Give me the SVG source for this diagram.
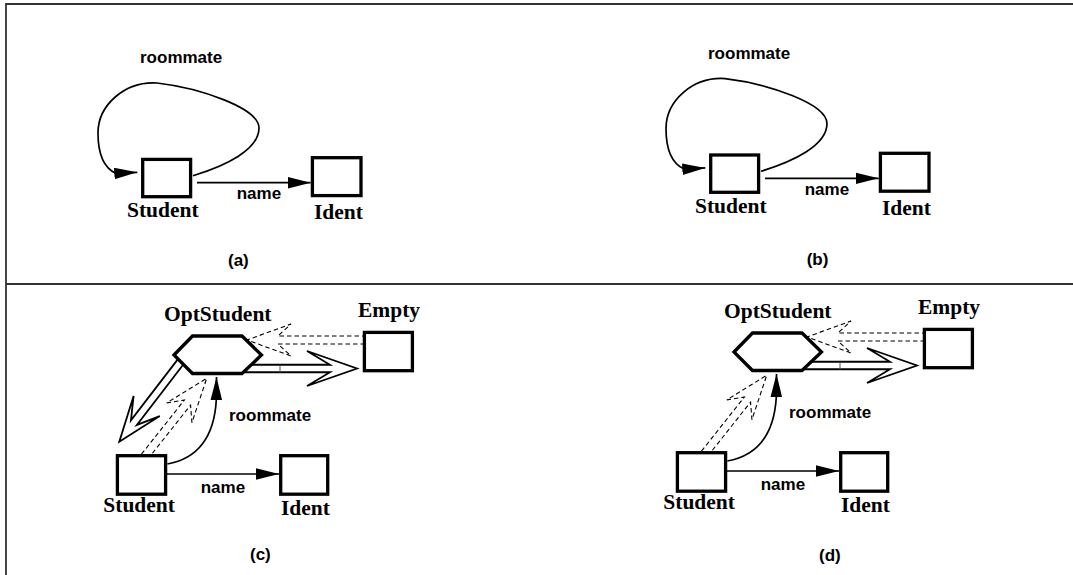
<svg xmlns="http://www.w3.org/2000/svg" width="1073" height="575" viewBox="0 0 1073 575">
<defs>
<marker id="ah" markerUnits="userSpaceOnUse" markerWidth="23" markerHeight="12" refX="22" refY="5.5" orient="auto" viewBox="0 0 22 11"><path d="M0,0 L22,5.5 L0,11 z" fill="#000"/></marker>
<style>
.frame{stroke:#333;stroke-width:1.8;fill:none}
.box{fill:#fff;stroke:#000;stroke-width:3.3}
.edge{fill:none;stroke:#000;stroke-width:1.7}
.hollow{fill:none;stroke:#000;stroke-width:1.8;stroke-linejoin:miter}
.tick{stroke:#555;stroke-width:1}
.dash{fill:none;stroke:#000;stroke-width:1.1;stroke-dasharray:4.5 3}
.lbl{font-family:"Liberation Sans",Arial,Helvetica,sans-serif;font-weight:bold;font-size:17px;fill:#000}
.nm{font-family:"Liberation Serif","Times New Roman",serif;font-weight:bold;font-size:21.5px;fill:#000}
</style>
</defs>
<rect width="1073" height="575" fill="#fff"/>
<path class="frame" d="M6,575 V4 H1073 M6,284 H1073"/>

<!-- Panel (a) -->
<g id="panel-a">
  <g id="a-connectors">
    <path class="edge" d="M193,175.7 C225,166 259,150 259,128 C259,108 200,88 157,83 C125,81 98,105 98,133 C98,155 104,168 116,173.5 L137.3,172.3" marker-end="url(#ah)"/>
    <path class="edge" d="M197,182.7 H310.7" marker-end="url(#ah)"/>
    <text class="lbl" x="140" y="63">roommate</text>
    <text class="lbl" x="236.7" y="199.3">name</text>
  </g>
  <g id="a-student"><rect class="box" x="142.7" y="159.4" width="47.9" height="37.3"/><text class="nm" x="127" y="217">Student</text></g>
  <g id="a-ident"><rect class="box" x="312.4" y="157.7" width="48.6" height="37.9"/><text class="nm" x="314" y="219">Ident</text></g>
  <text class="lbl" x="228" y="266">(a)</text>
</g>

<!-- Panel (b) -->
<g id="panel-b">
  <g transform="translate(568,-4.4)">
    <g id="b-connectors">
      <path class="edge" d="M193,175.7 C225,166 259,150 259,128 C259,108 200,88 157,83 C125,81 98,105 98,133 C98,155 104,168 116,173.5 L137.3,172.3" marker-end="url(#ah)"/>
      <path class="edge" d="M197,182.7 H310.7" marker-end="url(#ah)"/>
      <text class="lbl" x="140" y="63">roommate</text>
      <text class="lbl" x="236.7" y="199.3">name</text>
    </g>
    <g id="b-student"><rect class="box" x="142.7" y="159.4" width="47.9" height="37.3"/><text class="nm" x="127" y="217">Student</text></g>
    <g id="b-ident"><rect class="box" x="312.4" y="157.7" width="48.6" height="37.9"/><text class="nm" x="314" y="219">Ident</text></g>
  </g>
  <text class="lbl" x="806.7" y="265">(b)</text>
</g>

<!-- Panel (c) -->
<g id="panel-c">
  <g id="c-connectors">
    <path class="hollow" transform="translate(357,368.5)" d="M-117,-3.75 L-27,-3.75 L-50,-17.5 L0,0 L-50,17.5 L-27,3.75 L-117,3.75"/>
    <path class="tick" d="M280,365 V372.5"/>
    <path class="hollow" transform="translate(119.3,441.7) rotate(127.5)" d="M-105,-3.75 L-24,-3.75 L-45,-16.5 L0,0 L-45,16.5 L-24,3.75 L-105,3.75"/>
    <path class="dash" transform="translate(247,340) rotate(180)" d="M-118,-4 L-31,-4 L-44,-16 L0,0 L-44,16 L-31,4 L-118,4"/>
    <path class="dash" transform="translate(206.7,378.3) rotate(-51.6)" d="M-100,-4 L-31,-4 L-44,-16 L0,0 L-44,16 L-31,4 L-100,4"/>
    <path class="edge" d="M167.3,464 C195,459 214,440 216.3,400 L216.5,377" marker-end="url(#ah)"/>
    <path class="edge" d="M167,474 H279" marker-end="url(#ah)"/>
    <text class="lbl" x="229" y="420.7">roommate</text>
    <text class="lbl" x="200.7" y="493.3">name</text>
  </g>
  <g id="c-optstudent"><polygon class="box" points="174,355 192.5,336 242,336 261.5,355 242,373.5 192.5,373.5"/><text class="nm" x="164" y="320.7">OptStudent</text></g>
  <g id="c-empty"><rect class="box" x="364.4" y="332.4" width="48" height="38.3"/><text class="nm" x="358" y="316.7">Empty</text></g>
  <g id="c-student"><rect class="box" x="117.4" y="455.7" width="48.2" height="38.5"/><text class="nm" x="103.3" y="511.7">Student</text></g>
  <g id="c-ident"><rect class="box" x="280.7" y="455.7" width="47" height="38.5"/><text class="nm" x="281" y="515">Ident</text></g>
  <text class="lbl" x="250" y="560">(c)</text>
</g>

<!-- Panel (d) -->
<g id="panel-d">
  <g transform="translate(560,-3)">
    <g id="d-connectors">
      <path class="hollow" transform="translate(357,368.5)" d="M-117,-3.75 L-27,-3.75 L-50,-17.5 L0,0 L-50,17.5 L-27,3.75 L-117,3.75"/>
      <path class="tick" d="M280,365 V372.5"/>
      <path class="dash" transform="translate(247,340) rotate(180)" d="M-118,-4 L-31,-4 L-44,-16 L0,0 L-44,16 L-31,4 L-118,4"/>
      <path class="dash" transform="translate(206.7,378.3) rotate(-51.6)" d="M-100,-4 L-31,-4 L-44,-16 L0,0 L-44,16 L-31,4 L-100,4"/>
      <path class="edge" d="M167.3,464 C195,459 214,440 216.3,400 L216.5,377" marker-end="url(#ah)"/>
      <path class="edge" d="M167,474 H279" marker-end="url(#ah)"/>
      <text class="lbl" x="229" y="420.7">roommate</text>
      <text class="lbl" x="200.7" y="493.3">name</text>
    </g>
    <g id="d-optstudent"><polygon class="box" points="174,355 192.5,336 242,336 261.5,355 242,373.5 192.5,373.5"/><text class="nm" x="164" y="320.7">OptStudent</text></g>
    <g id="d-empty"><rect class="box" x="364.4" y="332.4" width="48" height="38.3"/><text class="nm" x="358" y="316.7">Empty</text></g>
    <g id="d-student"><rect class="box" x="117.4" y="455.7" width="48.2" height="38.5"/><text class="nm" x="103.3" y="511.7">Student</text></g>
    <g id="d-ident"><rect class="box" x="280.7" y="455.7" width="47" height="38.5"/><text class="nm" x="281" y="515">Ident</text></g>
  </g>
  <text class="lbl" x="819" y="561">(d)</text>
</g>
</svg>
